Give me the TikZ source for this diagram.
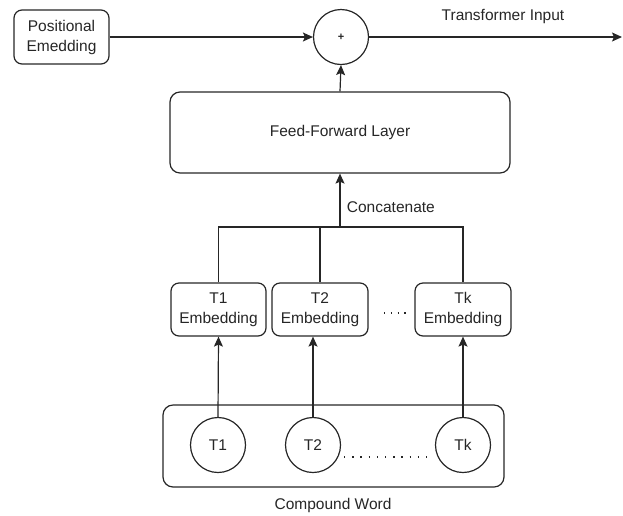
\documentclass[tikz,border=0pt]{standalone}
\usepackage{fontspec}
\setmainfont{Liberation Sans}
\usetikzlibrary{arrows.meta}
\begin{document}
\begin{tikzpicture}[x=1pt,y=-1pt, line width=1.2pt, color={black!85},
  txt/.style={font=\fontsize{15.5}{20}\selectfont, text=black!85},
  box/.style={draw, rounded corners=8pt, inner sep=0pt, align=center, txt},
  tok/.style={draw, circle, minimum size=55pt, inner sep=0pt, txt},
  arr/.style={-{Stealth[length=10pt,width=9pt,inset=2pt]}},
  dots/.style={line width=1.3pt, dash pattern=on 1.3pt off 5.5pt},
  wdots/.style={line width=1.3pt, dash pattern=on 1.3pt off 6.9pt}]
\useasboundingbox (0,0) rectangle (623,515);
\node[box, minimum width=95pt, minimum height=54pt] (pe) at (61.5,37) {Positional\\Emedding};
\node[draw, circle, minimum size=55pt, inner sep=0pt, font=\fontsize{11}{12}\selectfont\bfseries] (plus) at (341,37) {+};
\coordinate (out) at (622,37);
\node[txt] (ti) at (503,16) {Transformer Input};
\node[box, rounded corners=10pt, minimum width=340pt, minimum height=81pt] (ff) at (340,132.5) {Feed-Forward Layer};
\node[box, minimum width=95pt, minimum height=53pt] (e1) at (218.5,309.5) {T1\\Embedding};
\node[box, minimum width=96pt, minimum height=53pt] (e2) at (320,309.5) {T2\\Embedding};
\node[box, minimum width=96pt, minimum height=53pt] (ek) at (463,309.5) {Tk\\Embedding};
\node[box, rounded corners=10pt, minimum width=341pt, minimum height=82pt] (cw) at (333.5,446) {};
\node[tok] (t1) at (218,445) {T1};
\node[tok] (t2) at (313,445) {T2};
\node[tok] (tk) at (463,445) {Tk};
\node[txt] (cwl) at (333,505) {Compound Word};
\coordinate (bc) at (340,227);
\node[txt, anchor=west] (cat) at (343,207) {Concatenate};
\coordinate (d1) at (384,313);
\coordinate (d2) at (406,313);
\coordinate (d3) at (344,457);
\coordinate (d4) at (430,457);
% connectors
\draw[arr] (pe.east) -- (plus.west);
\draw[arr] (plus.east) -- (out);
\draw[arr] (ff.north) -- (plus.south);
\draw (e1.north) -- (e1.north |- bc) -- (ek.north |- bc) -- (ek.north);
\draw (e2.north) -- (e2.north |- bc);
\draw[arr] (bc) -- (ff.south);
\draw[arr] (t1.north) -- (e1.south);
\draw[arr] (t2.north) -- (t2.north |- e2.south);
\draw[arr] (tk.north) -- (ek.south);
\draw[dots] (d1) -- (d2);
\draw[wdots] (d3) -- (d4);
\end{tikzpicture}
\end{document}
